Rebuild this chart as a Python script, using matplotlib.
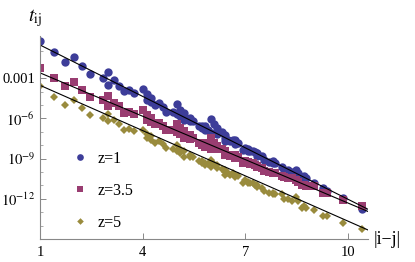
import numpy as np
import matplotlib.pyplot as plt

plt.rcParams['font.family'] = ['Liberation Serif', 'DejaVu Serif']
plt.rcParams['mathtext.fontset'] = 'stix'

# distancias |i-j| de la red cúbica 7x7x7
x = [1.000, 1.414, 1.732, 2.000, 2.236, 2.449, 2.828, 3.000, 3.000, 3.162,
     3.317, 3.464, 3.606, 3.742, 4.000, 4.123, 4.123, 4.243, 4.243, 4.359,
     4.472, 4.583, 4.690, 4.899, 5.000, 5.000, 5.099, 5.099, 5.196, 5.196,
     5.385, 5.385, 5.477, 5.657, 5.745, 5.745, 5.831, 5.831, 5.916, 6.000,
     6.000, 6.083, 6.164, 6.164, 6.325, 6.403, 6.403, 6.403, 6.481, 6.557,
     6.633, 6.708, 6.708, 6.782, 6.928, 7.000, 7.071, 7.071, 7.141, 7.211,
     7.280, 7.348, 7.348, 7.483, 7.550, 7.681, 7.810, 7.810, 7.874, 8.062,
     8.124, 8.246, 8.367, 8.485, 8.544, 8.660, 8.718, 8.775, 9.000, 9.274,
     9.381, 9.849, 10.392]

# log10(t_ij)
logt_z1 = [-0.20, -1.07, -1.78, -1.40, -2.08, -2.70, -3.02, -3.47, -2.53, -3.10,
           -3.58, -3.97, -3.90, -4.10, -3.77, -4.65, -4.20, -4.50, -4.80, -5.00,
           -4.85, -5.15, -5.50, -5.55, -5.65, -4.95, -5.85, -5.35, -6.15, -5.60,
           -6.20, -6.00, -6.20, -6.55, -6.70, -6.55, -6.85, -6.60, -6.85, -7.10,
           -6.02, -6.45, -7.15, -6.75, -7.00, -7.70, -7.45, -7.25, -7.60, -7.70,
           -7.60, -7.90, -7.60, -7.85, -8.35, -8.20, -8.40, -8.30, -8.45, -8.40,
           -8.50, -8.80, -8.60, -8.80, -9.10, -9.25, -9.20, -9.35, -9.30, -9.65,
           -9.85, -9.85, -10.00, -9.86, -10.05, -10.55, -10.28, -10.45, -10.84, -11.20,
           -11.40, -11.95, -12.74]

logt_z35 = [-2.27, -3.02, -3.60, -3.28, -3.85, -4.40, -4.65, -5.08, -4.35, -4.85,
            -5.10, -5.57, -5.50, -5.65, -5.40, -6.15, -5.75, -6.00, -6.30, -6.45,
            -6.35, -6.55, -6.90, -6.90, -7.00, -6.40, -7.20, -6.75, -7.45, -6.95,
            -7.50, -7.25, -7.45, -7.80, -7.95, -7.80, -8.10, -7.85, -8.00, -8.30,
            -7.45, -7.85, -8.30, -8.05, -8.30, -8.75, -8.55, -8.40, -8.70, -8.80,
            -8.70, -8.95, -8.75, -8.90, -9.30, -9.15, -9.35, -9.25, -9.40, -9.35,
            -9.45, -9.65, -9.55, -9.70, -9.90, -10.00, -10.05, -10.10, -10.10, -10.30,
            -10.40, -10.45, -10.46, -10.60, -10.75, -11.00, -10.97, -11.05, -11.06, -11.60,
            -11.60, -12.08, -12.55]

logt_z5 = [-3.60, -4.40, -5.03, -4.65, -5.23, -5.72, -5.98, -6.23, -5.68, -6.15,
           -6.40, -6.90, -6.80, -6.95, -6.85, -7.45, -7.20, -7.35, -7.60, -7.80,
           -7.70, -7.90, -8.20, -8.25, -8.40, -7.95, -8.55, -8.30, -8.85, -8.40,
           -8.90, -8.70, -8.85, -9.20, -9.35, -9.20, -9.45, -9.30, -9.40, -9.65,
           -9.10, -9.40, -9.70, -9.50, -9.75, -10.20, -10.00, -9.85, -10.10, -10.20,
           -10.10, -10.35, -10.20, -10.30, -10.80, -10.60, -10.80, -10.75, -10.85, -10.85,
           -10.95, -11.15, -11.00, -11.20, -11.40, -11.55, -11.55, -11.65, -11.65, -11.65,
           -12.00, -12.05, -12.15, -11.90, -12.20, -12.70, -12.50, -12.70, -12.83, -13.30,
           -13.25, -13.78, -14.25]

# ajustes lineales en log10: (valor en x=1, pendiente)
fit_z1 = (-0.52, -1.280)
fit_z35 = (-2.60, -1.080)
fit_z5 = (-3.53, -1.127)

labels = ['z=1', 'z=3.5', 'z=5']
colors = ['#3d3d99', '#993d71', '#998b3d']
markers = ['o', 's', 'D']
msizes = [6.0, 5.2, 4.2]

fig = plt.figure(figsize=(4.15, 2.62), dpi=100)
ax = fig.add_axes([40/415, 23/262, 328/415, 203/262])

xmin, xmax = 1.0, 10.58
xl = np.array([xmin, xmax])
for logt, c, m, ms, lab in zip([logt_z1, logt_z35, logt_z5], colors, markers, msizes, labels):
    ax.plot(x, 10.0**np.array(logt), linestyle='none', marker=m, color=c,
            markersize=ms, markeredgewidth=0, label=lab)
for fit in [fit_z1, fit_z35, fit_z5]:
    ax.plot(xl, 10.0**(fit[0] + fit[1]*(xl - 1)), color='black', lw=0.8)

ax.set_yscale('log')
ax.set_xlim(xmin, xmax)
ax.set_ylim(1e-15, 10**0.15)

ax.set_xticks([1, 4, 7, 10])
ax.set_yticks([1e-3, 1e-6, 1e-9, 1e-12])
ax.set_yticklabels(['0.001', r'$10^{-6}$', r'$10^{-9}$', r'$10^{-12}$'])
ax.set_yticks([10.0**k for k in range(-14, 0) if k % 3 != 0], minor=True)
ax.yaxis.set_minor_formatter(plt.NullFormatter())

for s in ['top', 'right']:
    ax.spines[s].set_visible(False)
for s in ['left', 'bottom']:
    ax.spines[s].set_color('#888888')
    ax.spines[s].set_linewidth(0.8)
ax.tick_params(which='both', direction='in', color='#888888', labelsize=10.5)
ax.tick_params(axis='x', pad=5)
ax.tick_params(which='major', length=4, width=0.7)
ax.tick_params(which='minor', length=2, width=0.5)

fig.text(28/415, 1 - 18/262, r'$t_{\mathrm{ij}}$', fontsize=14, va='center')
fig.text(374/415, 1 - 240/262, '|i\u2212j|', fontsize=13, va='center')

ax.legend(loc='upper left', bbox_to_anchor=(64/415, 1 - 143/262), bbox_transform=fig.transFigure,
          frameon=False, numpoints=1, handlelength=1.0, handletextpad=0.6,
          labelspacing=1.0, fontsize=11.5, borderpad=0, markerscale=0.8)

fig.savefig('out.png', dpi=100)
